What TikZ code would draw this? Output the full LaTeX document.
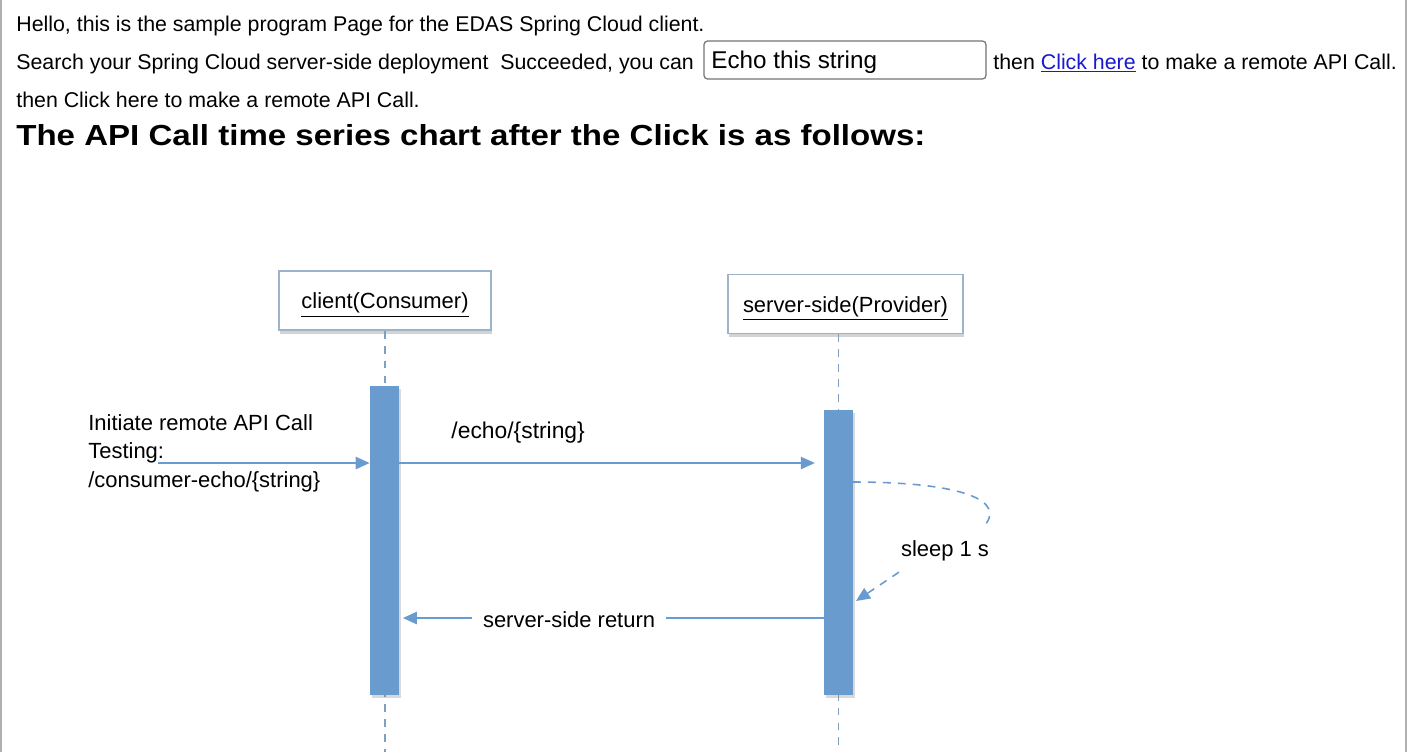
\documentclass[tikz,border=0pt]{standalone}
\usepackage{fontspec}
\setmainfont{Liberation Sans}
\usepackage{graphicx}
\usepackage{tikz}
\usetikzlibrary{arrows.meta,positioning,calc,shadows}
\usepackage{xcolor}
\definecolor{seqblue}{HTML}{6A9BCF}
\definecolor{boxedge}{HTML}{9DB3CA}
\definecolor{lifegray}{HTML}{7F9FC0}
\definecolor{linkblue}{HTML}{1A1ACC}
\definecolor{pageedge}{HTML}{B0B0B0}

\begin{document}
\begin{tikzpicture}[
    x=0.02cm, y=-0.02cm,
    line/.style={anchor=base west, inner sep=0pt, font=\fontsize{12.15}{14}\selectfont},
    title/.style={anchor=base west, inner sep=0pt, font=\fontsize{16.5}{19}\selectfont\bfseries},
    inputbox/.style={draw=black!55, rounded corners=2pt, line width=0.7pt, minimum width=5.64cm,
                     minimum height=0.76cm, inner sep=0pt},
    actor/.style={draw=boxedge, fill=white, line width=0.8pt, minimum height=1.18cm,
                  text height=13pt, text depth=3.5pt, font=\fontsize{12.5}{15}\selectfont,
                  drop shadow={opacity=0.35, shadow xshift=0.5pt, shadow yshift=-2pt}},
    bar/.style={fill=seqblue, draw=none, minimum width=0.58cm, inner sep=0pt,
                drop shadow={opacity=0.3, shadow xshift=1pt, shadow yshift=-1.5pt}},
    life/.style={draw=lifegray, line width=0.7pt, dash pattern=on 4.5pt off 4pt},
    msg/.style={draw=seqblue, line width=1pt, -{Triangle[length=8pt, width=7pt]}},
    txt/.style={inner sep=0pt, font=\fontsize{12.5}{16.2}\selectfont}
]
\useasboundingbox (0,0) rectangle (1408,752);
\draw[pageedge, line width=1.2pt] (1,0) -- (1,752);
\draw[pageedge, line width=1.2pt] (1406,0) -- (1406,752);

% page text
\node[line] (hello) at (16,31) {Hello, this is the sample program Page for the EDAS Spring Cloud client.};
\node[line] (search) at (16,69) {Search your Spring Cloud server-side deployment~ Succeeded, you can};
\node[inputbox] (echoinput) at (845,60) {};
\node[anchor=west, inner sep=0pt, font=\fontsize{13.8}{16}\selectfont] (echotext) at (711,62) {Echo this string};
\node[line] (then) at (993,69) {then \textcolor{linkblue}{\underline{Click here}} to make a remote API Call.};
\node[line] (again) at (16,107) {then Click here to make a remote API Call.};
\node[title] (heading) at (16,145) {\scalebox{1.14}[1]{The API Call time series chart after the Click is as follows:}};

% sequence chart
\node[actor, minimum width=4.24cm] (client) at (385,300.5) {\underline{client(Consumer)}};
\node[actor, minimum width=4.7cm] (server) at (845.5,304) {\underline{server-side(Provider)}};

\coordinate (clientend) at (385,752);
\coordinate (serverend) at (838.5,752);
\draw[life] (client.south) -- (clientend);
\draw[life] (server.south -| serverend) -- (serverend);

\node[bar, minimum height=6.18cm] (clientbar) at (384.5,540.5) {};
\node[bar, minimum height=5.7cm] (serverbar) at (838.5,552.5) {};

\node[txt, anchor=north west, align=left] (initiate) at (88,414) {Initiate remote API Call\\Testing:\\/consumer-echo/\{string\}};
\coordinate (callstart) at (158,463);
\draw[msg] (callstart) -- (callstart -| clientbar.west);

\coordinate (echoy) at (0,463);
\draw[msg, shorten >=5pt] (echoy -| clientbar.east) -- (echoy -| serverbar.west)
    node[txt, pos=0.28, above=10.5pt, font=\fontsize{13}{16}\selectfont] {/echo/\{string\}};

\node[txt] (sleep) at (945,551) {sleep 1 s};
\coordinate (selfout) at (853,482);
\coordinate (selfin) at (856,601);
\draw[life, line width=0.9pt, draw=seqblue] (selfout) .. controls (960,482) and (1010,500) .. ([xshift=-4pt,yshift=7pt]sleep.north east);
\draw[life, line width=0.9pt, draw=seqblue, -{Triangle[length=8pt, width=7pt]}] ([xshift=-1pt,yshift=-6pt]sleep.south west) -- (selfin);

\coordinate (returny) at (0,618);
\draw[msg, shorten >=2pt] (returny -| serverbar.west) -- (returny -| clientbar.east)
    node[txt, pos=0.6, fill=white, inner xsep=6pt, inner ysep=3pt, yshift=-1pt] (ret) {server-side return};
\end{tikzpicture}
\end{document}
